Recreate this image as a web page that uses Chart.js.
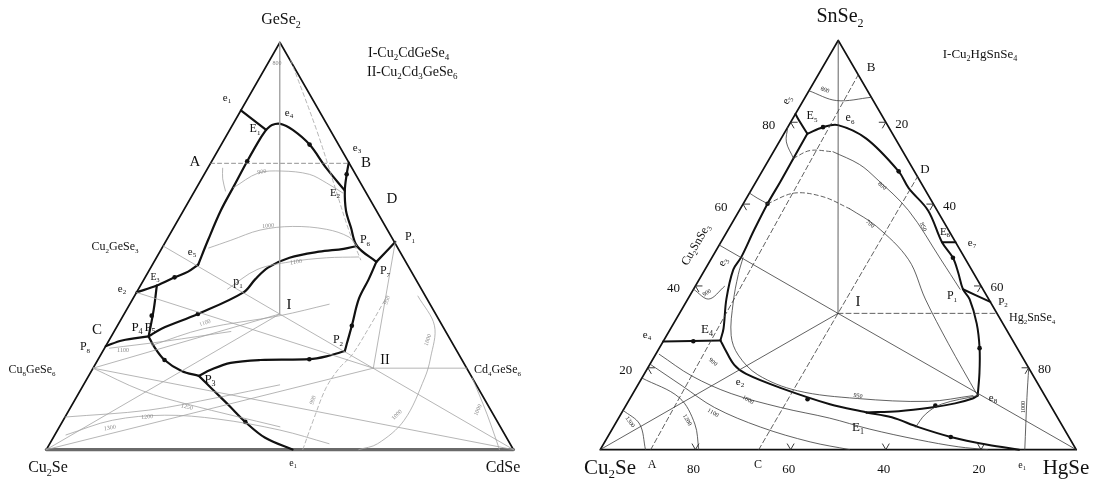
<!DOCTYPE html>
<html>
<head>
<meta charset="utf-8">
<script src="https://cdn.jsdelivr.net/npm/chart.js@4.4.0/dist/chart.umd.min.js"></script>
<style>
  html, body { margin: 0; padding: 0; background: #fff; }
  #marco { position: relative; width: 1094px; height: 491px; }
  canvas { position: absolute; top: 0; }
  #izq { left: 0; }
  #der { left: 547px; }
</style>
</head>
<body>
<div id="marco">
  <canvas id="izq" width="547" height="491"></canvas>
  <canvas id="der" width="547" height="491"></canvas>
</div>
<script>
// =====================
// Datos: sistema Cu2Se–CdSe–GeSe2  (puntos = [CdSe %, GeSe2 %])
// =====================
const vertices = [[0, 0], [100, 0], [0, 100], [0, 0]];

const izqE1e1 = [[0, 83.3], [7.8, 78.5]];
const izqE1E2 = [[7.8, 78.5], [8.45, 79.7], [10.1, 80.0], [13.5, 78.5], [18.9, 74.9], [25.4, 69.1], [32.1, 63.6]];
const izqE1e5 = [[7.8, 78.5], [7.6, 76.3], [7.6, 70.8], [7.8, 64.7], [8.0, 58.7], [8.9, 51.4], [9.8, 45.4]];
const izqE3 = [[0, 38.6], [3.5, 40.3], [6.3, 42.3], [8.5, 43.7], [9.8, 45.4]];
const izqE3P4 = [[3.5, 40.3], [5.75, 34.5], [8.0, 27.8]];
const izqP4P8 = [[8.0, 27.8], [2.8, 26.8], [0, 25.4]];
const izqP4P3 = [[8.0, 27.8], [10.3, 25.4], [14.3, 22.0], [19.3, 19.3], [23.6, 18.1]];
const izqP3e1 = [[23.6, 18.1], [28.3, 14.7], [33.6, 10.9], [39.2, 6.8], [45.4, 2.9], [52.7, 0]];
const izqP4P6 = [[8.0, 27.8], [9.8, 29.7], [15.8, 33.3], [22.9, 38.6], [23.8, 41.8], [25.1, 44.7], [28.5, 47.1], [34.1, 48.6], [39.0, 49.3], [41.5, 50.0]];
const izqBP7 = [[29.5, 70.5], [30.5, 67.6], [32.1, 63.6], [34.8, 58.7], [37.9, 54.6], [41.5, 50.0], [47.6, 46.1]];
const izqP1P7 = [[49.2, 51.0], [47.6, 46.1]];
const izqP7P2 = [[47.6, 46.1], [48.1, 41.8], [48.4, 37.0], [50.2, 30.4], [51.3, 26.1], [51.8, 24.2]];
const izqP2P3 = [[51.8, 24.2], [48.5, 22.9], [45.2, 22.2], [34.8, 22.0], [28.8, 21.3], [25.4, 19.6], [23.6, 18.1]];

// secciones (triangulación)
const izqCortes = [
  [[0, 100], [33.3, 33.3]],
  [[0, 50], [33.3, 33.3]],
  [[0, 20], [33.3, 33.3]],
  [[0, 0], [33.3, 33.3]],
  [[33.3, 33.3], [100, 0]],
  [[60, 20], [80, 20]],
  [[0, 0], [60, 20]],
  [[0, 20], [100, 0]],
  [[0, 38.6], [60, 20]],
  [[60, 20], [49.2, 51.0]]
];

// isotermas
const izqIsotermas = [
  [[7.9, 64.3], [11.4, 67.9], [16.2, 68.4], [22.5, 67.6], [27.2, 65.5], [32.0, 63.0]],
  [[10.0, 49.5], [13.8, 51.4], [18.8, 53.9], [25.3, 54.8], [32.9, 54.1], [38.7, 52.2], [41.5, 50.0]],
  [[19.1, 39.4], [23.0, 44.2], [29.1, 46.1], [36.4, 47.1], [43.2, 47.3]],
  [[9.8, 25.6], [18.9, 29.7], [33.6, 32.9], [42.7, 35.7]],
  [[2.4, 3.6], [10.5, 7.2], [21.1, 8.45], [33.0, 7.5], [47.6, 4.8], [59.8, 1.45]],
  [[0, 8.0], [17.1, 9.7], [30.3, 12.8], [42.0, 15.9]],
  [[0, 20], [13.2, 14.5], [24.8, 11.1], [47.2, 5.6]],
  [[1.05, 24.9], [12.0, 26.6], [25.0, 29.0]],
  [[60.7, 37.7], [67.9, 30.4], [71.0, 22.5], [72.2, 17.6], [73.0, 7.2], [70.2, 1.45], [66.9, 0]],
  [[82.4, 17.6], [90.0, 8.7], [95.5, 1.9], [97.0, 0]],
  [[3.2, 69.1], [4.5, 66.5], [6.6, 63.5]]
];
const izqIsotermaGuion = [[54.9, 0], [53.4, 8.0], [52.3, 15.2], [52.7, 20.0], [53.8, 23.2], [54.1, 29.7], [54.1, 37.0]];
const izqGuionVertice = [[4.45, 95.7], [19.0, 78.0], [30.3, 63.5], [37.8, 53.9], [44.0, 46.6]];
const izqAB = [[0, 70.3], [29.7, 70.3]];
const izqFlechas = [[18.9, 74.9], [7.6, 70.8], [6.3, 42.3], [6.1, 32.9], [15.8, 33.3], [14.3, 22.0], [39.2, 6.8], [45.2, 22.2], [50.2, 30.4], [30.5, 67.6]];

// =====================
// Datos: sistema Cu2Se–HgSe–SnSe2  (puntos = [HgSe %, SnSe2 %])
// =====================
const marcas = [20, 40, 60, 80];

const derE5 = [[0, 82], [2.2, 79.8], [4.9, 77.2]];
const derE5e8 = [[4.9, 77.2], [7.4, 78.8], [10.3, 79.3], [17.9, 76.0], [28.7, 68.0], [32.85, 63.9], [39.7, 58.4], [46.45, 50.7], [50.65, 46.9], [53.55, 43.3], [56.6, 39.2], [59.2, 36.8], [63.7, 30.8], [67.3, 24.8], [70.3, 18.75], [72.7, 13.2]];
const derE6e7 = [[46.45, 50.7], [49.3, 50.7]];
const derP1P2 = [[56.6, 39.2], [63.9, 36.1]];
const derE5E4 = [[4.9, 77.2], [5.0, 71.2], [5.1, 65.6], [5.1, 60.1], [5.5, 53.6], [6.1, 47.1], [5.95, 44.0], [8.1, 36.8], [11.1, 29.6], [11.9, 26.7]];
const derE4e4 = [[11.9, 26.7], [0, 26.4]];
const derE4E1 = [[11.9, 26.7], [13.7, 24.8], [17.8, 20.7], [21.4, 18.5], [30.3, 15.1], [42.7, 11.1], [51.4, 9.1]];
const derE1e8 = [[51.4, 9.1], [58.0, 9.4], [64.4, 10.3], [68.9, 11.3], [72.0, 12.5], [72.7, 13.2]];
const derE1e1 = [[51.4, 9.1], [57.3, 7.9], [64.1, 5.5], [72.1, 3.1], [80.8, 1.2], [88.0, 0]];

const derCortes = [
  [[0, 100], [33.3, 33.3]],
  [[0, 50], [33.3, 33.3]],
  [[0, 0], [33.3, 33.3]],
  [[33.3, 33.3], [100, 0]]
];
const derGuiones = [
  [[33.3, 33.3], [66.7, 33.3]],
  [[10.6, 0], [8.4, 91.6]],
  [[33.3, 0], [33.3, 66.7]]
];
const derIsotermas = [
  [[6.55, 46.9], [7.6, 42.8], [9.9, 36.1], [13.55, 27.9], [17.45, 23.1], [23.95, 18.3], [34.2, 14.4], [47.75, 12.5], [63.0, 11.8], [71.7, 13.2]],
  [[0, 87.7], [7.0, 85.3], [13.9, 86.1]],
  [[12.5, 72.8], [19.6, 69.7], [24.8, 66.3], [35.6, 58.4], [48.4, 46.4], [56.0, 39.2]],
  [[22.9, 58.9], [30.7, 54.6], [41.6, 46.4], [49.9, 36.8], [60.1, 26.0], [72.7, 13.2]],
  [[0, 78.8], [1.5, 75.2], [5.0, 71.2]],
  [[0, 62.7], [2.2, 61.5], [5.1, 60.1]],
  [[0, 39.2], [4.4, 36.8], [6.15, 39.9]],
  [[72.7, 13.2], [66.1, 11.1], [64.0, 8.65], [63.5, 5.5]],
  [[0.75, 23.3], [10.25, 18.0], [20.65, 13.7], [32.75, 10.3], [44.35, 7.7], [53.98, 5.05], [65.7, 2.4], [74.85, 0.7], [81.4, 0]],
  [[0, 20.9], [9.4, 15.6], [18.85, 10.3], [30.95, 5.5], [43.15, 1.9], [52.4, 0]],
  [[0, 17.5], [10.25, 12.7], [16.75, 6.25], [20.7, 0]],
  [[0, 9.6], [5.15, 6.25], [9.5, 0]],
  [[80.05, 19.95], [83.3, 12.7], [89.2, 0]]
];
const derIsotermasGuion = [
  [[5.0, 71.2], [7.55, 73.1], [12.5, 72.8]],
  [[5.1, 60.1], [9.45, 62.7], [15.9, 61.8], [22.9, 58.9]]
];
const derFlechas = [[7.4, 78.8], [28.7, 68.0], [50.65, 46.9], [67.3, 24.8], [5.1, 60.1], [6.3, 26.5], [37.4, 12.3], [65, 10.8], [72.1, 3.1]];

// =====================
// Rótulos  [texto, x, y (px de página), tamaño, giro, alineación, color]
// "_" marca el carácter siguiente como subíndice
// =====================
const rotulosIzq = [
  ["GeSe_2", 281, 20, 16], ["Cu_2Se", 48, 468, 16], ["CdSe", 503, 468, 16],
  ["I-Cu_2CdGeSe_4", 368, 53, 14, 0, "left"], ["II-Cu_2Cd_3GeSe_6", 367, 72, 14, 0, "left"],
  ["A", 195, 162, 15], ["B", 366, 163, 15], ["C", 97, 330, 15], ["D", 392, 199, 15],
  ["Cu_2GeSe_3", 115, 247, 12], ["Cu_8GeSe_6", 32, 370, 12], ["Cd_4GeSe_6", 474, 370, 12, 0, "left"],
  ["I", 289, 305, 15], ["II", 385, 360, 14],
  ["e_1", 227, 98, 11], ["E_1", 255, 129, 12], ["e_4", 289, 113, 11], ["e_3", 357, 148, 11],
  ["E_2", 335, 193, 11], ["P_6", 365, 240, 12], ["P_1", 410, 237, 12], ["P_7", 385, 271, 12],
  ["P_2", 338, 340, 12], ["p_1", 238, 282, 12], ["e_5", 192, 252, 11], ["e_2", 122, 289, 11],
  ["E_3", 155, 277, 10], ["P_4", 137, 328, 13], ["P_5", 150, 328, 13], ["P_8", 85, 347, 12],
  ["P_3", 210, 380, 13], ["e_1", 293, 463, 10],
  ["800", 277, 63, 6, 0, "center", "#888"], ["900", 262, 172, 6, -10, "center", "#888"],
  ["1000", 268, 226, 6, -5, "center", "#888"], ["1100", 296, 262, 6, -8, "center", "#888"],
  ["1100", 205, 323, 6, -20, "center", "#888"], ["1100", 123, 350, 6, 0, "center", "#888"],
  ["1250", 187, 407, 6, 15, "center", "#888"], ["1200", 147, 417, 6, -5, "center", "#888"],
  ["1300", 110, 428, 6, -10, "center", "#888"], ["900", 313, 400, 6, -70, "center", "#888"],
  ["1000", 397, 415, 6, -45, "center", "#888"], ["1000", 478, 410, 6, -65, "center", "#888"],
  ["1000", 428, 340, 6, -70, "center", "#888"], ["950", 387, 300, 6, -70, "center", "#888"]
];
const rotulosDer = [
  ["SnSe_2", 840, 17, 20], ["Cu_2Se", 610, 468, 21], ["HgSe", 1066, 468, 21],
  ["I-Cu_2HgSnSe_4", 980, 55, 13], ["I", 858, 302, 15], ["Hg_2SnSe_4", 1009, 318, 12, 0, "left"],
  ["Cu_2SnSe_3", 696, 245, 12, -60],
  ["A", 652, 465, 12], ["C", 758, 465, 12], ["B", 871, 68, 13], ["D", 925, 170, 13],
  ["e_5", 787, 100, 11, -60], ["E_5", 812, 116, 12], ["e_6", 850, 118, 12], ["E_6", 945, 232, 11],
  ["e_7", 972, 243, 11], ["P_1", 952, 296, 12], ["P_2", 1003, 302, 11], ["e_8", 993, 398, 11],
  ["E_1", 858, 428, 13], ["e_1", 1022, 465, 10], ["e_2", 740, 382, 11], ["e_3", 723, 262, 11, -60],
  ["e_4", 647, 335, 11], ["E_4", 707, 330, 13],
  ["800", 825, 90, 6, 20], ["800", 882, 186, 6, 40], ["700", 870, 224, 6, 40], ["850", 923, 227, 6, 65],
  ["900", 707, 293, 6, -30], ["900", 713, 362, 6, 40], ["950", 858, 396, 6, 10],
  ["1000", 748, 400, 6, 30], ["1100", 713, 413, 6, 30], ["1200", 687, 420, 6, 60],
  ["1300", 630, 422, 6, 55], ["1000", 1023, 407, 6, -90]
];

// =====================
// Funciones auxiliares
// =====================
// composición ternaria [derecha %, arriba %] -> coordenadas del gráfico
function aXY(p) {
  return { x: p[0] + p[1] / 2, y: p[1] };
}

function serie(puntos, color, ancho, guion, tension) {
  return {
    data: puntos.map(aXY),
    showLine: true,
    pointRadius: 0,
    borderColor: color,
    borderWidth: ancho,
    borderDash: guion || [],
    tension: tension === undefined ? 0.35 : tension,
    fill: false,
    borderCapStyle: "round",
    borderJoinStyle: "round"
  };
}

function flechas(puntos) {
  return {
    data: puntos.map(aXY),
    showLine: false,
    pointRadius: 2.3,
    pointBackgroundColor: "#111",
    pointBorderWidth: 0
  };
}

const FUENTE = '"Liberation Serif", "DejaVu Serif", "Times New Roman", serif';

function escribir(ctx, texto, x, y, tam, giro, alinear, color) {
  const partes = [];
  for (let i = 0; i < texto.length; i++) {
    if (texto[i] === "_" && i + 1 < texto.length) { partes.push([texto[i + 1], true]); i++; }
    else partes.push([texto[i], false]);
  }
  const fNormal = tam + "px " + FUENTE;
  const fSub = Math.max(5, Math.round(tam * 0.62)) + "px " + FUENTE;
  let ancho = 0;
  partes.forEach(([c, sub]) => { ctx.font = sub ? fSub : fNormal; ancho += ctx.measureText(c).width; });
  ctx.save();
  ctx.translate(x, y);
  if (giro) ctx.rotate(giro * Math.PI / 180);
  ctx.fillStyle = color || "#111";
  ctx.textBaseline = "middle";
  ctx.textAlign = "left";
  let cx = alinear === "left" ? 0 : -ancho / 2;
  partes.forEach(([c, sub]) => {
    ctx.font = sub ? fSub : fNormal;
    ctx.fillText(c, cx, sub ? tam * 0.32 : 0);
    cx += ctx.measureText(c).width;
  });
  ctx.restore();
}

// rótulos y marcas de escala
function pluginRotulos(rotulos, desplaz, conMarcas) {
  return {
    id: "rotulos",
    afterDatasetsDraw(chart) {
      const ctx = chart.ctx;
      const sx = chart.scales.x, sy = chart.scales.y;
      const px = p => { const q = aXY(p); return [sx.getPixelForValue(q.x), sy.getPixelForValue(q.y)]; };

      if (conMarcas) {
        ctx.save();
        ctx.strokeStyle = "#222";
        ctx.lineWidth = 0.9;
        const L = 7;
        const trazo = (o, dirs) => dirs.forEach(d => {
          ctx.beginPath(); ctx.moveTo(o[0], o[1]); ctx.lineTo(o[0] + d[0] * L, o[1] + d[1] * L); ctx.stroke();
        });
        marcas.forEach(v => {
          const pi = px([0, v]), pd = px([v, 100 - v]), pb = px([100 - v, 0]);
          trazo(pi, [[1, 0], [0.5, 0.866]]);
          trazo(pd, [[-1, 0], [-0.5, 0.866]]);
          trazo(pb, [[0.5, -0.866], [-0.5, -0.866]]);
          escribir(ctx, String(v), pi[0] - 22, pi[1] + 3, 13);
          escribir(ctx, String(v), pd[0] + 16, pd[1] + 2, 13);
          escribir(ctx, String(v), pb[0] - 2, pb[1] + 20, 13);
        });
        ctx.restore();
      }

      rotulos.forEach(r => escribir(ctx, r[0], r[1] - desplaz, r[2], r[3], r[4] || 0, r[5] || "center", r[6]));
    }
  };
}

function crearDiagrama(id, datasets, escX, escY, rotulos, desplaz, conMarcas) {
  return new Chart(document.getElementById(id), {
    type: "scatter",
    data: { datasets: datasets },
    options: {
      responsive: false,
      animation: false,
      devicePixelRatio: 1,
      events: [],
      layout: { padding: 0 },
      plugins: { legend: { display: false }, tooltip: { enabled: false } },
      scales: {
        x: { type: "linear", display: false, min: escX[0], max: escX[1] },
        y: { type: "linear", display: false, min: escY[0], max: escY[1] }
      }
    },
    plugins: [pluginRotulos(rotulos, desplaz, conMarcas)]
  });
}

// =====================
// Diagrama izquierdo
// =====================
const GRIS = "#a3a3a3";
const dsIzq = [];
izqCortes.forEach(c => dsIzq.push(serie(c, GRIS, 0.8, null, 0)));
izqIsotermas.forEach(c => dsIzq.push(serie(c, GRIS, 0.8)));
dsIzq.push(serie(izqIsotermaGuion, GRIS, 0.8, [4, 3]));
dsIzq.push(serie(izqGuionVertice, GRIS, 0.8, [4, 3]));
dsIzq.push(serie(izqAB, "#777", 0.8, [4, 3], 0));
[izqE1e1, izqE1E2, izqE1e5, izqE3, izqE3P4, izqP4P8, izqP4P3, izqP3e1, izqP4P6, izqBP7, izqP1P7, izqP7P2, izqP2P3]
  .forEach(c => dsIzq.push(serie(c, "#111", 2.2)));
dsIzq.push(serie([[0, 0], [100, 0]], "#6a6a6a", 3.2, null, 0));
dsIzq.push(serie([[100, 0], [0, 100], [0, 0]], "#111", 1.8, null, 0));
dsIzq.push(flechas(izqFlechas));

crearDiagrama("izq", dsIzq, [-9.07, 106.33], [-9.18, 109.42], rotulosIzq, 0, false);

// =====================
// Diagrama derecho
// =====================
const OSCURO = "#3a3a3a";
const dsDer = [];
derCortes.forEach(c => dsDer.push(serie(c, OSCURO, 0.8, null, 0)));
derGuiones.forEach(c => dsDer.push(serie(c, OSCURO, 0.8, [5, 3], 0)));
derIsotermas.forEach(c => dsDer.push(serie(c, OSCURO, 0.8)));
derIsotermasGuion.forEach(c => dsDer.push(serie(c, OSCURO, 0.8, [4, 3])));
[derE5, derE5e8, derE6e7, derP1P2, derE5E4, derE4e4, derE4E1, derE1e8, derE1e1]
  .forEach(c => dsDer.push(serie(c, "#111", 2.0)));
dsDer.push(serie(vertices, "#111", 1.8, null, 0));
dsDer.push(flechas(derFlechas));

crearDiagrama("der", dsDer, [-10.35, 102.9], [-9.13, 108.9], rotulosDer, 547, true);
</script>
</body>
</html>
